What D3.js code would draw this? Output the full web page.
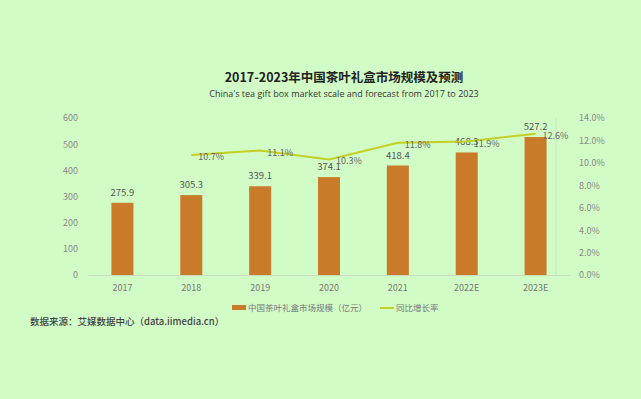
<!DOCTYPE html>
<html><head><meta charset="utf-8">
<script src="https://cdn.jsdelivr.net/npm/d3@7"></script>
<style>
html,body{margin:0;padding:0;background:#d2fcc6;}
svg{display:block;}
</style></head>
<body><svg id="c" width="641" height="399"></svg>
<script>
const categories = ["2017","2018","2019","2020","2021","2022E","2023E"];
const marketSize = [275.9,305.3,339.1,374.1,418.4,468.3,527.2];
const growthRate = [null,10.7,11.1,10.3,11.8,11.9,12.6];
const leftTicks = [0,100,200,300,400,500,600];
const rightTicks = [0,2,4,6,8,10,12,14];
const titleText = "2017-2023年中国茶叶礼盒市场规模及预测";
const subtitleText = "China's tea gift box market scale and forecast from 2017 to 2023";
const legendBar = "中国茶叶礼盒市场规模（亿元）";
const legendLine = "同比增长率";
const sourceText = "数据来源：艾媒数据中心（data.iimedia.cn）";

const svg = d3.select("#c");
const font = "'Noto Sans CJK SC','Noto Sans',sans-serif";
svg.append("rect").attr("width",641).attr("height",399).attr("fill","#d2fcc6");

const x = d3.scaleBand().domain(categories).range([88,570]).paddingInner(0.68).paddingOuter(0.34);
const yL = d3.scaleLinear().domain([0,600]).range([275,118]);
const yR = d3.scaleLinear().domain([0,14]).range([275,118]);

// title
svg.append("text").attr("x",344).attr("y",82).attr("text-anchor","middle")
  .attr("font-family",font).attr("font-size",12.5).attr("font-weight","bold").attr("fill","#222").text(titleText);
svg.append("text").attr("x",344).attr("y",97).attr("text-anchor","middle")
  .attr("font-family","'Open Sans',sans-serif").attr("font-size",9).attr("fill","#333").text(subtitleText);

// left axis
const gL = svg.append("g").attr("transform","translate(82,0)")
  .call(d3.axisLeft(yL).tickValues(leftTicks).tickSize(0).tickPadding(4));
gL.select(".domain").remove();
gL.selectAll("text").attr("font-family",font).attr("font-size",9).attr("fill","#888");

// right axis
const gR = svg.append("g").attr("transform","translate(576,0)")
  .call(d3.axisRight(yR).tickValues(rightTicks).tickSize(0).tickPadding(3).tickFormat(d=>d.toFixed(1)+"%"));
gR.select(".domain").remove();
gR.selectAll("text").attr("font-family",font).attr("font-size",9).attr("fill","#888");

// bottom axis
const gB = svg.append("g").attr("transform","translate(0,275)")
  .call(d3.axisBottom(x).tickSize(0).tickPadding(10));
gB.select(".domain").attr("stroke","#c8dcc0").attr("stroke-width",1);
gB.selectAll("text").attr("font-family",font).attr("font-size",9).attr("fill","#777");

// faint right border
svg.append("line").attr("x1",556).attr("x2",556).attr("y1",118).attr("y2",275).attr("stroke","#c8e8bd").attr("stroke-width",1);

// bars
svg.selectAll("rect.bar").data(marketSize).join("rect").attr("class","bar")
  .attr("x",(d,i)=>x(categories[i])).attr("width",x.bandwidth())
  .attr("y",d=>yL(d)).attr("height",d=>yL(0)-yL(d)).attr("fill","#c97b2a");
svg.selectAll("text.bl").data(marketSize).join("text").attr("class","bl")
  .attr("x",(d,i)=>x(categories[i])+x.bandwidth()/2).attr("y",d=>yL(d)-7)
  .attr("text-anchor","middle").attr("font-family",font).attr("font-size",9.5).attr("fill","#555").text(d=>d.toFixed(1));

// line
const pts = growthRate.map((v,i)=>({v,c:categories[i]})).filter(d=>d.v!=null);
svg.append("path").datum(pts)
  .attr("d",d3.line().x(d=>x(d.c)+x.bandwidth()/2).y(d=>yR(d.v)))
  .attr("fill","none").attr("stroke","#c3cf22").attr("stroke-width",2);
svg.selectAll("text.ll").data(pts).join("text").attr("class","ll")
  .attr("x",d=>x(d.c)+x.bandwidth()/2+7).attr("y",d=>yR(d.v)+5)
  .attr("font-family",font).attr("font-size",9).attr("fill","#666").text(d=>d.v.toFixed(1)+"%");

// legend
svg.append("rect").attr("x",232).attr("y",305).attr("width",14).attr("height",5).attr("fill","#c97b2a");
svg.append("text").attr("x",248).attr("y",311).attr("font-family",font).attr("font-size",8.5).attr("fill","#777").text(legendBar);
svg.append("line").attr("x1",380).attr("x2",394).attr("y1",308).attr("y2",308).attr("stroke","#c3cf22").attr("stroke-width",2);
svg.append("text").attr("x",396).attr("y",311).attr("font-family",font).attr("font-size",8.5).attr("fill","#777").text(legendLine);

// source
svg.append("text").attr("x",30).attr("y",325).attr("font-family",font).attr("font-size",9.5).attr("font-weight","500").attr("fill","#444").text(sourceText);
</script></body></html>
